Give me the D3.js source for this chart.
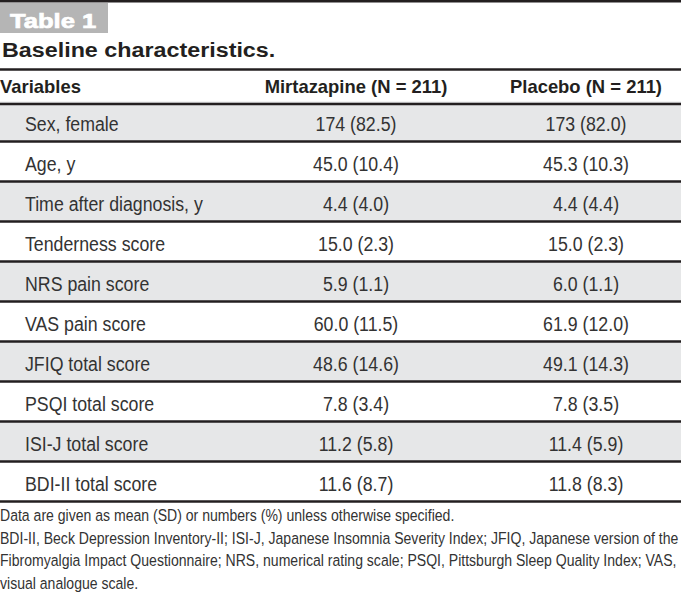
<!DOCTYPE html>
<html>
<head>
<meta charset="utf-8">
<script src="https://cdn.jsdelivr.net/npm/d3@7"></script>
<style>
  html, body { margin: 0; padding: 0; background: #fff; }
  svg { display: block; }
</style>
</head>
<body>
<svg id="chart" width="681" height="592"></svg>
<script>
// ---- Data ----
const tableLabel = "Table 1";
const title = "Baseline characteristics.";
const headers = ["Variables", "Mirtazapine (N = 211)", "Placebo (N = 211)"];
const variables = [
  "Sex, female", "Age, y", "Time after diagnosis, y", "Tenderness score",
  "NRS pain score", "VAS pain score", "JFIQ total score", "PSQI total score",
  "ISI-J total score", "BDI-II total score"
];
const mirtazapineMean = [174, 45.0, 4.4, 15.0, 5.9, 60.0, 48.6, 7.8, 11.2, 11.6];
const mirtazapineSD   = [82.5, 10.4, 4.0, 2.3, 1.1, 11.5, 14.6, 3.4, 5.8, 8.7];
const placeboMean     = [173, 45.3, 4.4, 15.0, 6.0, 61.9, 49.1, 7.8, 11.4, 11.8];
const placeboSD       = [82.0, 10.3, 4.4, 2.3, 1.1, 12.0, 14.3, 3.5, 5.9, 8.3];
const footnotes = [
  "Data are given as mean (SD) or numbers (%) unless otherwise specified.",
  "BDI-II, Beck Depression Inventory-II; ISI-J, Japanese Insomnia Severity Index; JFIQ, Japanese version of the",
  "Fibromyalgia Impact Questionnaire; NRS, numerical rating scale; PSQI, Pittsburgh Sleep Quality Index; VAS,",
  "visual analogue scale."
];

// ---- Drawing ----
const svg = d3.select("#chart");
const W = 681;
const ink = "#231f20";
const textCol = "#333333";
const font = "'Liberation Sans', Arial, Helvetica, sans-serif";

const fmt = (v, i) => i === 0 ? d3.format("d")(v) : d3.format(".1f")(v);
const cell = (m, s, i) => `${fmt(m, i)} (${d3.format(".1f")(s)})`;

const y = d3.scaleBand().domain(variables).range([101.5, 501.5]).padding(0);
const colX = d3.scaleOrdinal().domain(headers).range([25, 356, 586]);

// helper: text placed with horizontal scaling (emulates condensed / extended faces)
function addText(parent, x, yy, str, opts) {
  const t = parent.append("text")
    .attr("transform", `translate(${x},${yy}) scale(${opts.k || 1},1)`)
    .attr("text-anchor", opts.anchor || "start")
    .attr("font-family", font)
    .attr("font-weight", opts.weight || 400)
    .attr("font-size", opts.size)
    .attr("fill", opts.fill || textCol)
    .text(str);
  if (opts.stroke) t.attr("stroke", opts.fill).attr("stroke-width", opts.stroke);
  return t;
}

// top rule
svg.append("line").attr("x1", 0).attr("x2", W).attr("y1", 1.3).attr("y2", 1.3)
  .attr("stroke", ink).attr("stroke-width", 2.6);

// Table label box
svg.append("rect").attr("x", 0).attr("y", 3).attr("width", 108).attr("height", 30).attr("fill", "#b5b5b5");
addText(svg, 10, 27.5, tableLabel, { size: 21, weight: 700, k: 1.22, fill: "#ffffff", stroke: 0.7 });

// title
addText(svg, 2, 57, title, { size: 21, weight: 700, k: 1.11, fill: ink });

svg.append("line").attr("x1", 0).attr("x2", W).attr("y1", 69.5).attr("y2", 69.5)
  .attr("stroke", ink).attr("stroke-width", 2.6);

// row shading
const rows = svg.append("g");
rows.selectAll("rect").data(variables).join("rect")
  .attr("x", 0).attr("width", W)
  .attr("y", d => y(d)).attr("height", y.bandwidth())
  .attr("fill", (d, i) => i % 2 === 0 ? "#e6e7e8" : "#ffffff");

// header text
const hg = svg.append("g");
headers.forEach((h, i) => {
  addText(hg, i === 0 ? 0 : colX(h), 93, h,
    { size: 19, weight: 700, k: 0.97, anchor: i === 0 ? "start" : "middle", fill: ink });
});

// row lines
rows.selectAll("line").data(variables).join("line")
  .attr("x1", 0).attr("x2", W)
  .attr("y1", d => y(d) + y.bandwidth()).attr("y2", d => y(d) + y.bandwidth())
  .attr("stroke", ink).attr("stroke-width", 2.4);

// header underline
svg.append("line").attr("x1", 0).attr("x2", W).attr("y1", 104).attr("y2", 104)
  .attr("stroke", ink).attr("stroke-width", 2.6);

// row texts
const bodyOpts = { size: 21, k: 0.845 };
const bg = svg.append("g");
variables.forEach((v, i) => {
  const by = y(v) + 29.5;
  addText(bg, colX(headers[0]), by, v, bodyOpts);
  addText(bg, colX(headers[1]), by, cell(mirtazapineMean[i], mirtazapineSD[i], i), { ...bodyOpts, anchor: "middle" });
  addText(bg, colX(headers[2]), by, cell(placeboMean[i], placeboSD[i], i), { ...bodyOpts, anchor: "middle" });
});

// footnotes: condensed so that the widest line spans the page width
const fg = svg.append("g");
const fnSize = 16.5;
const fnNodes = footnotes.map((f, i) => addText(fg, 0, 521 + i * 22.5, f, { size: fnSize, k: 1 }));
const widest = d3.max(fnNodes, n => n.node().getComputedTextLength());
const kFn = 679 / widest;
fnNodes.forEach((n, i) => n.attr("transform", `translate(0,${521 + i * 22.5}) scale(${kFn},1)`));
</script>
</body>
</html>
